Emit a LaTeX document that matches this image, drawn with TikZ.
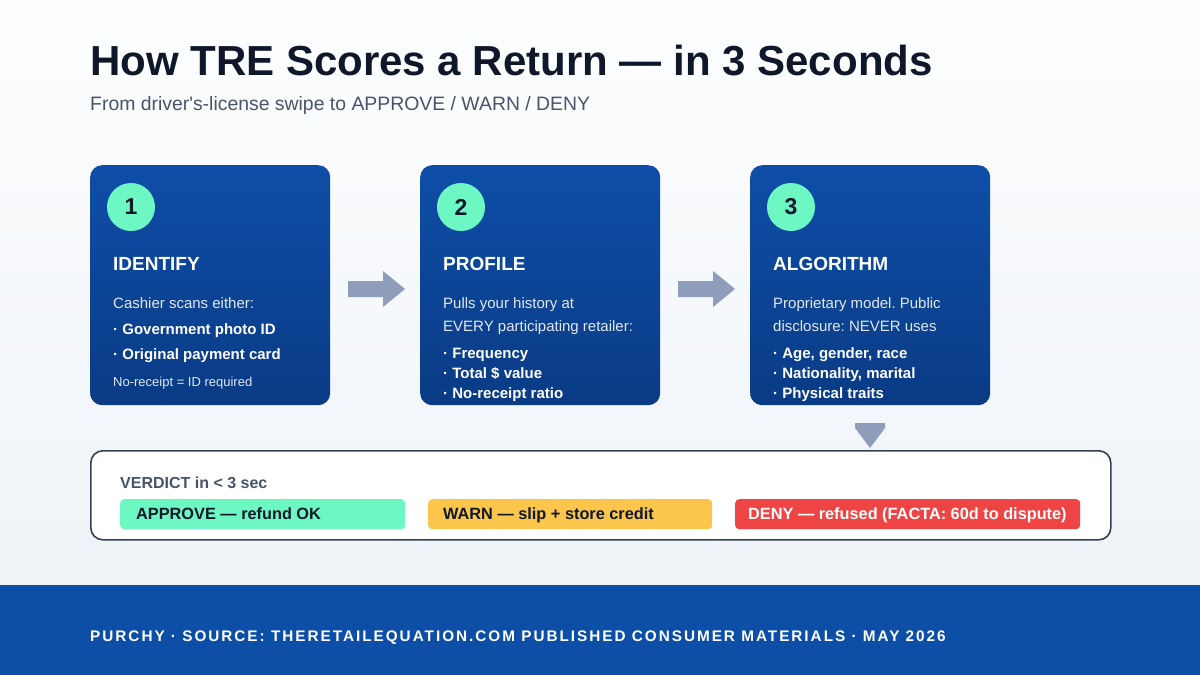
\documentclass[tikz,border=0pt]{standalone}
\usepackage{fontspec}
\setmainfont{Liberation Sans}
\usetikzlibrary{calc}
\frenchspacing
\definecolor{bgtop}{HTML}{FDFEFF}
\definecolor{bgbot}{HTML}{EFF3F8}
\definecolor{navy}{HTML}{0F172A}
\definecolor{subgray}{HTML}{475569}
\definecolor{cardtop}{HTML}{0E4EA8}
\definecolor{cardbot}{HTML}{0A3B85}
\definecolor{mint}{HTML}{6CF7C3}
\definecolor{amber}{HTML}{FCC54B}
\definecolor{redc}{HTML}{EF4444}
\definecolor{footerc}{HTML}{0D4EA6}
\definecolor{slate}{HTML}{334155}
\definecolor{arrowc}{HTML}{8E9DBA}
\definecolor{bodytxt}{HTML}{E2E8F0}
\tikzset{
  card/.style={rounded corners=12pt, top color=cardtop, bottom color=cardbot,
    minimum width=240pt, minimum height=240pt, anchor=north west, inner sep=0pt},
  stepnum/.style={circle, fill=mint, minimum size=48pt, inner sep=0pt, text=navy,
    font=\fontsize{23}{26}\selectfont\bfseries},
  txt/.style={anchor=base west, inner sep=0pt},
  heading/.style={txt, text=white, font=\fontsize{19}{22}\selectfont\bfseries},
  body/.style={txt, text=bodytxt, font=\fontsize{15}{18}\selectfont},
  bullet/.style={txt, text=white, font=\fontsize{15}{18}\selectfont\bfseries},
  note/.style={txt, text=bodytxt, font=\fontsize{13}{16}\selectfont},
  blockarrow/.style={fill=arrowc},
  pill/.style={rounded corners=4pt, minimum height=30pt, anchor=north west, inner sep=0pt},
  pilltext/.style={txt, font=\fontsize{16.3}{20}\selectfont\bfseries},
}
\begin{document}
\begin{tikzpicture}[x=1pt,y=-1pt]
\useasboundingbox (0,0) rectangle (1200,675);
\shade[top color=bgtop, bottom color=bgbot] (0,0) rectangle (1200,585);
\fill[footerc] (0,585) rectangle (1200,675);

% title
\node[txt, text=navy, font=\fontsize{42}{48}\selectfont\bfseries] (title) at (90,75)
  {How TRE Scores a Return — in 3 Seconds};
\node[txt, text=subgray, font=\fontsize{19.4}{23}\selectfont] (subtitle) at (90,110)
  {From driver\textquotesingle s-license swipe to APPROVE / WARN / DENY};

% cards
\node[card] (c1) at (90,165) {};
\node[card] (c2) at (420,165) {};
\node[card] (c3) at (750,165) {};

\node[stepnum] (n1) at (131,207) {1};
\node[stepnum] (n2) at (461,207) {2};
\node[stepnum] (n3) at (791,207) {3};

% card 1
\node[heading] (h1) at (113,270) {IDENTIFY};
\node[body] (b1a) at (113,308) {Cashier scans either:};
\node[bullet] (b1b) at (113,334) {· Government photo ID};
\node[bullet] (b1c) at (113,359) {· Original payment card};
\node[note] (b1d) at (113,386) {No-receipt = ID required};

% card 2
\node[heading] (h2) at (443,270) {PROFILE};
\node[body] (b2a) at (443,308) {Pulls your history at};
\node[body] (b2b) at (443,331) {EVERY participating retailer:};
\node[bullet] (b2c) at (443,358) {· Frequency};
\node[bullet] (b2d) at (443,378) {· Total \$ value};
\node[bullet] (b2e) at (443,398) {· No-receipt ratio};

% card 3
\node[heading] (h3) at (773,270) {ALGORITHM};
\node[body] (b3a) at (773,308) {Proprietary model. Public};
\node[body] (b3b) at (773,331) {disclosure: NEVER uses};
\node[bullet] (b3c) at (773,358) {· Age, gender, race};
\node[bullet] (b3d) at (773,378) {· Nationality, marital};
\node[bullet] (b3e) at (773,398) {· Physical traits};

% block arrows
\fill[blockarrow] (348,281) -- (383,281) -- (383,271) -- (405,289) -- (383,307) -- (383,297) -- (348,297) -- cycle;
\fill[blockarrow] (678,281) -- (713,281) -- (713,271) -- (735,289) -- (713,307) -- (713,297) -- (678,297) -- cycle;
\fill[blockarrow] (855,423) -- (885,423) -- (885,428) -- (870,448) -- (855,428) -- cycle;

% verdict box
\node[draw=slate, line width=1.6pt, fill=white, rounded corners=12pt, minimum width=1020pt,
  minimum height=89pt, anchor=north west, inner sep=0pt] (verdict) at (90,450) {};
\node[txt, text=subgray, font=\fontsize{16}{19}\selectfont\bfseries] (vlabel) at (120,488)
  {VERDICT in < 3 sec};

\node[pill, fill=mint, minimum width=285pt] (approve) at (120,499) {};
\node[pill, fill=amber, minimum width=284pt] (warn) at (428,499) {};
\node[pill, fill=redc, minimum width=345pt] (deny) at (735,499) {};
\node[pilltext, text=navy] (approvet) at (136,519) {APPROVE — refund OK};
\node[pilltext, text=navy] (warnt) at (443,519) {WARN — slip + store credit};
\node[pilltext, text=white] (denyt) at (748,519) {DENY — refused (FACTA: 60d to dispute)};

% footer
\node[txt, text=white, font=\fontsize{15.3}{18}\selectfont\bfseries\addfontfeature{LetterSpace=13}] (foot) at (90,641)
  {PURCHY · SOURCE: THERETAILEQUATION.COM PUBLISHED CONSUMER MATERIALS · MAY 2026};
\end{tikzpicture}
\end{document}
